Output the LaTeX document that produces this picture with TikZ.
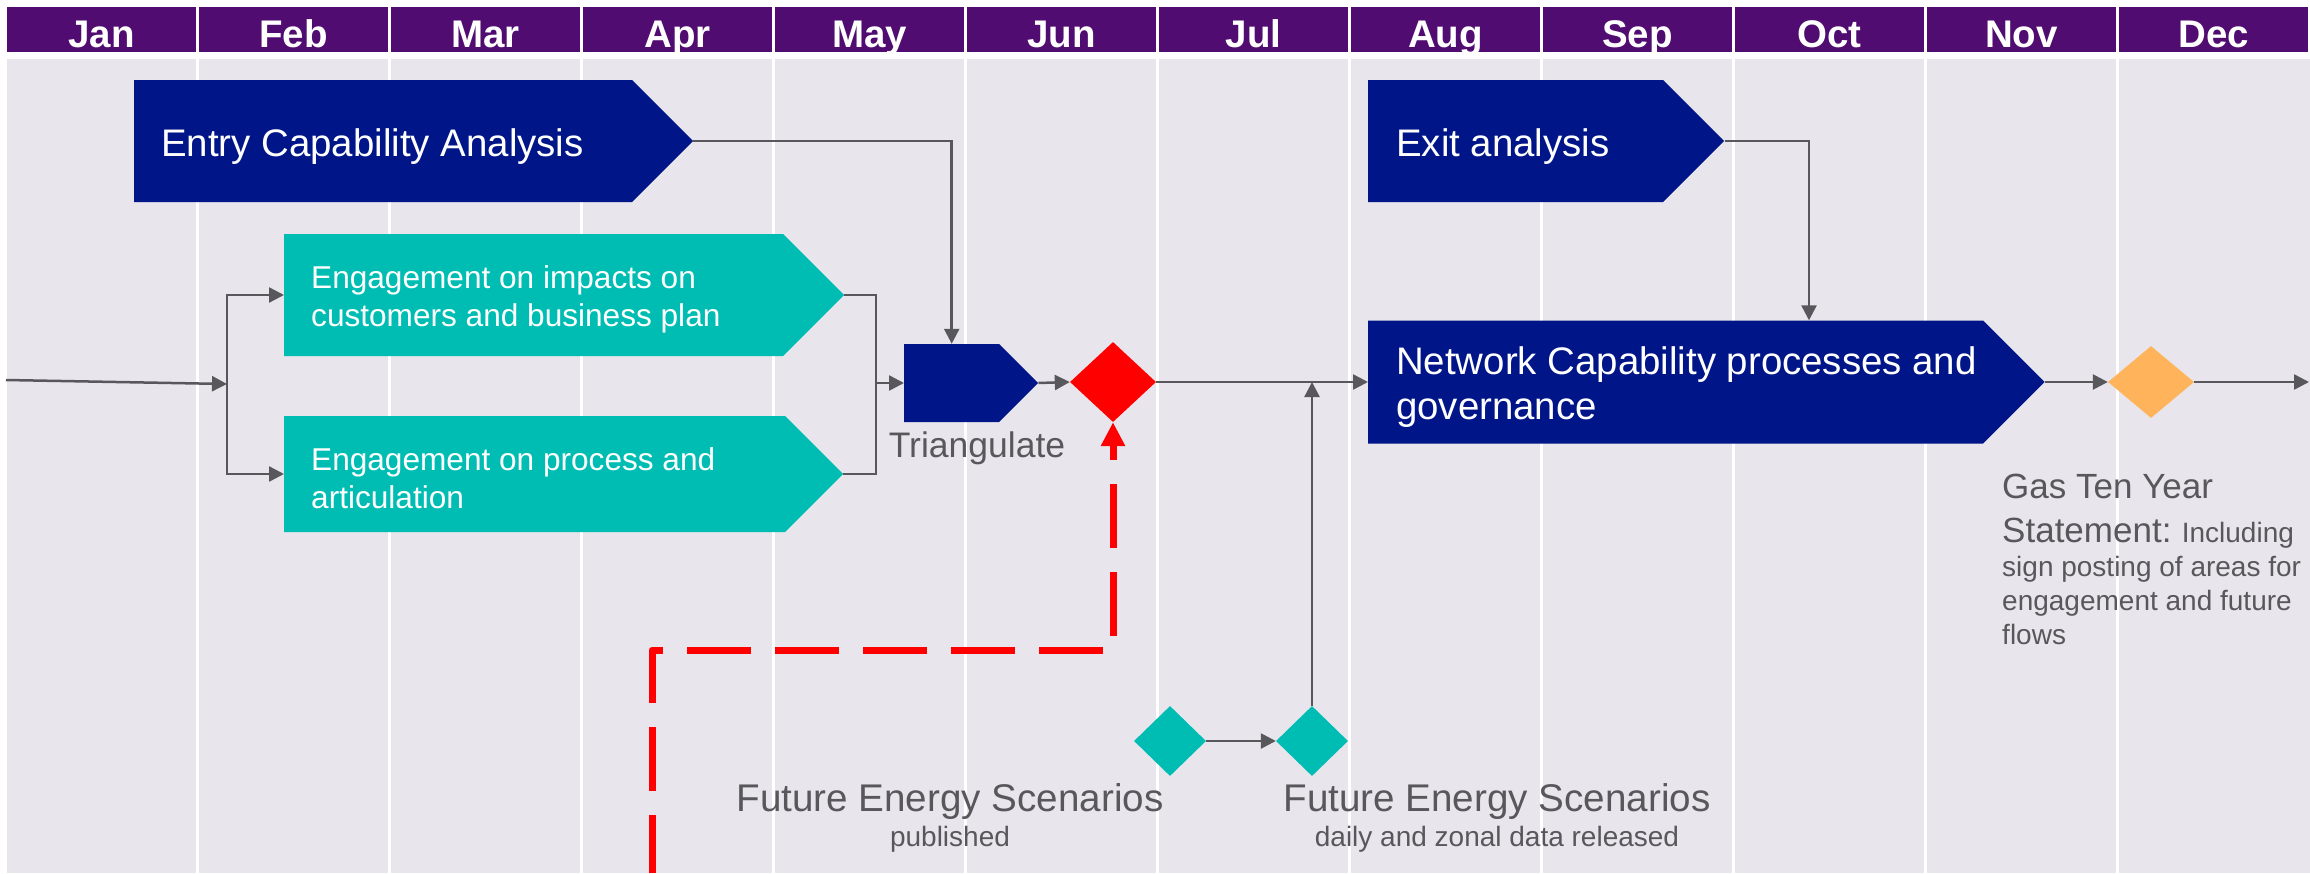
\documentclass[tikz,border=0pt]{standalone}
\usepackage{fontspec}
\setmainfont{Liberation Sans}
\usetikzlibrary{shapes.symbols,shapes.geometric,arrows.meta}

\definecolor{hdrpurple}{RGB}{80,12,112}
\definecolor{navy}{RGB}{0,22,136}
\definecolor{festeal}{RGB}{0,189,179}
\definecolor{bggray}{RGB}{232,230,236}
\definecolor{linegray}{RGB}{88,88,92}
\definecolor{milestone}{RGB}{255,179,90}

\tikzset{
  month/.style={fill=hdrpurple,text=white,minimum width=189pt,minimum height=45pt,inner sep=0pt,text height=35pt,text depth=0pt,font=\fontsize{38.5}{40}\selectfont\bfseries},
  stage/.style={signal,signal to=east,text=white,align=flush left,inner ysep=0pt,anchor=west},
  bigstage/.style={stage,fill=navy,text height=38pt,font=\fontsize{38.4}{45}\selectfont},
  engstage/.style={stage,fill=festeal,text height=31pt,font=\fontsize{31.6}{38}\selectfont},
  flow/.style={draw=linegray,line width=2.5pt,-{Triangle[length=15pt,width=15pt]}},
  link/.style={draw=linegray,line width=2.5pt},
  reddash/.style={draw=red,line width=7pt,line join=round,dash pattern=on 64pt off 24pt,dash phase=6pt,-{Triangle[length=24pt,width=23pt]}},
  gem/.style={diamond,inner sep=0pt},
  note/.style={text=linegray,inner sep=0pt}
}

\begin{document}
\begin{tikzpicture}[x=1pt,y=-1pt]
    \useasboundingbox (0,0) rectangle (2310,873);
    \fill[bggray] (7,59) rectangle (2310,873);
    \foreach \x in {197,389,...,2117}
        \draw[white,line width=3pt] (\x,59) -- (\x,873);
    \foreach \m [count=\i from 0] in {Jan,Feb,Mar,Apr,May,Jun,Jul,Aug,Sep,Oct,Nov,Dec}
        \node[month] (m\i) at (101.5+192*\i,29.5) {\m};

    \node[bigstage,text width=444pt,inner xsep=27pt,minimum height=122pt] (entry) at (134,141) {Entry Capability Analysis};
    \node[bigstage,text width=239pt,inner xsep=28pt,minimum height=122pt] (exit) at (1368,141) {Exit analysis};
    \node[engstage,text width=445pt,inner xsep=27pt,minimum height=122pt] (eng1) at (284,295) {Engagement on impacts on\\customers and business plan};
    \node[engstage,text width=447pt,inner xsep=27pt,minimum height=116pt] (eng2) at (284,474) {Engagement on process and\\articulation};
    \node[stage,fill=navy,inner xsep=47.5pt,minimum height=78pt] (tri) at (904,383) {};
    \node[bigstage,text width=559pt,inner xsep=28pt,minimum height=123pt] (netcap) at (1368,382) {\mbox{Network Capability processes and}\\governance};

    \node[gem,fill=red,minimum width=86pt,minimum height=80pt] (verdict) at (1113,382) {};
    \node[gem,fill=festeal,minimum width=72pt,minimum height=70pt] (fes1) at (1170,741) {};
    \node[gem,fill=festeal,minimum width=72pt,minimum height=70pt] (fes2) at (1312,741) {};
    \node[gem,fill=milestone,minimum width=86pt,minimum height=72pt] (gtys) at (2151,382) {};

    \node[note,anchor=base,font=\fontsize{35.5}{36}\selectfont] (trilabel) at (977,457) {Triangulate};
    \node[note,anchor=base,text width=440pt,align=flush center,font=\fontsize{38.6}{35}\selectfont] (fes1label) at (950,811) {Future Energy Scenarios\\{\fontsize{28}{35}\selectfont published}};
    \node[note,anchor=base,text width=440pt,align=flush center,font=\fontsize{38.6}{35}\selectfont] (fes2label) at (1497,811) {Future Energy Scenarios\\{\fontsize{28}{35}\selectfont daily and zonal data released}};
    \node[note,anchor=base west,text width=308pt,align=flush left,font=\fontsize{28}{34}\selectfont] (gtyslabel) at (2002,498) {{\fontsize{35}{44}\selectfont Gas Ten Year}\\[10pt]{\fontsize{35}{44}\selectfont Statement:} Including\\sign posting of areas for\\engagement and future\\flows};

    \coordinate (inflow) at (6,380);
    \coordinate (split) at (227,384);
    \coordinate (merge) at (876,383);
    \coordinate (redfoot) at (652,873);
    \coordinate (redturn) at (652,650);
    \coordinate (outflow) at (2309,382);

    \draw[flow] (inflow) -- (split);
    \draw[flow] (split) |- (eng1.west);
    \draw[flow] (split) |- (eng2.west);
    \draw[link] (eng1.east) -| (merge);
    \draw[link] (eng2.east) -| (merge);
    \draw[flow] (merge) -- (tri.west);
    \draw[flow] (entry.east) -| (tri.north);
    \draw[flow] (tri.east) -- (verdict.west);
    \draw[flow] (verdict.east) -- (netcap.west);
    \draw[flow] (exit.east) -| ([xshift=441pt]netcap.north west);
    \draw[flow] (fes1.east) -- (fes2.west);
    \draw[flow] (fes2.north) -- (fes2.north |- verdict.east);
    \draw[flow] (netcap.east) -- (gtys.west);
    \draw[flow] (gtys.east) -- (outflow);
    \draw[reddash] (redfoot) -- (redturn) -| (verdict.south);
\end{tikzpicture}
\end{document}
